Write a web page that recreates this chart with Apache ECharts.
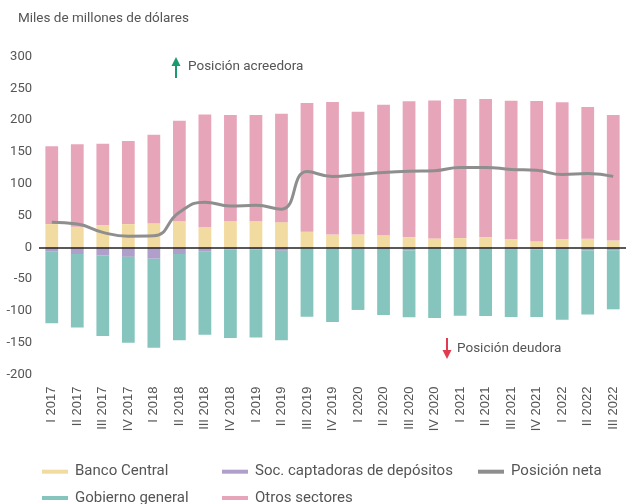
<!DOCTYPE html>
<html>
<head>
<meta charset="utf-8">
<script src="https://cdn.jsdelivr.net/npm/echarts@6/dist/echarts.min.js"></script>
<style>
	html, body { margin: 0; padding: 0; background: #fff; }
	#chart { width: 626px; height: 504px; }
</style>
</head>
<body>
<div id="chart"></div>
<script>
// 数据
var categories = ['I 2017', 'II 2017', 'III 2017', 'IV 2017', 'I 2018', 'II 2018', 'III 2018', 'IV 2018',
	'I 2019', 'II 2019', 'III 2019', 'IV 2019', 'I 2020', 'II 2020', 'III 2020', 'IV 2020',
	'I 2021', 'II 2021', 'III 2021', 'IV 2021', 'I 2022', 'II 2022', 'III 2022'];
var bancoCentral = [36.5, 32.5, 34.5, 36.5, 38, 41, 31.5, 41, 41, 39.5, 24.5, 20, 20, 19, 16, 14, 14.5, 16, 13, 9, 12.5, 13.5, 10.5];
var otrosSectores = [122.5, 129.5, 128.5, 130.5, 139, 158, 177.5, 167, 167, 170.5, 202.5, 208.5, 193, 205, 213.5, 217, 218.5, 217, 217.5, 221, 215.5, 207, 197.5];
var socCaptadoras = [-7, -10.5, -13, -15, -18, -10.5, -7, -3.5, -3, -5.5, -1.7, -2, -2, -2.5, -4.5, -2, -2, -2, -4, -3, -4, -4.5, -4.5];
var gobiernoGeneral = [-112.5, -115.5, -126.5, -135, -140, -135.5, -130.5, -139, -139, -140.5, -107.5, -115.5, -96.5, -104, -105.5, -109, -105.5, -106, -105.5, -106.5, -110, -101, -93];
var posicionNeta = [39.5, 36.5, 23.5, 17.5, 18, 55, 71, 65, 66, 60, 119, 111.5, 114.5, 117.5, 119.5, 120.5, 125.5, 125.5, 122.5, 121, 114.5, 116, 111.5];
var yTicks = { min: -200, max: 300, interval: 50 };

var font = "Roboto, 'Liberation Sans', sans-serif";
var textColor = '#555';

var myChart = echarts.init(document.getElementById('chart'));

// 单项图例（按列摆放）
function legendItem(left, top, name) {
	return {
		left: left,
		top: top,
		padding: 0,
		itemWidth: 26,
		itemHeight: 4,
		icon: 'rect',
		selectedMode: false,
		textStyle: { fontFamily: font, fontSize: 15, color: textColor, lineHeight: 18, padding: [0, 0, 0, 2] },
		data: [name]
	};
}

var option = {
	animation: false,
	title: {
		text: 'Miles de millones de dólares',
		left: 18,
		top: 12,
		padding: 0,
		textStyle: { fontFamily: font, fontSize: 13.5, fontWeight: 'normal', color: textColor }
	},
	legend: [
		legendItem(42, 462.7, 'Banco Central'),
		legendItem(42, 489, 'Gobierno general'),
		legendItem(222, 462.7, 'Soc. captadoras de depósitos'),
		legendItem(222, 489, 'Otros sectores'),
		legendItem(478, 462.7, 'Posición neta')
	],
	grid: { left: 39, right: -8, top: 56.5, bottom: 129.5 },
	xAxis: {
		type: 'category',
		data: categories,
		axisLine: { show: false },
		axisTick: { show: false },
		axisLabel: {
			interval: 0,
			rotate: 90,
			margin: 12,
			fontFamily: "'Liberation Sans', Arial, sans-serif",
			fontSize: 13,
			color: textColor
		}
	},
	yAxis: {
		type: 'value',
		min: yTicks.min,
		max: yTicks.max,
		interval: yTicks.interval,
		axisLine: { show: false },
		axisTick: { show: false },
		splitLine: { show: false },
		axisLabel: { margin: 7, fontFamily: font, fontSize: 13, color: textColor }
	},
	series: [
		{
			name: 'Banco Central', type: 'bar', stack: 'total', barWidth: '50%',
			itemStyle: { color: '#f2dba1' },
			data: bancoCentral,
			markLine: {
				silent: true,
				symbol: 'none',
				label: { show: false },
				lineStyle: { color: '#222', width: 1.5, type: 'solid' },
				data: [{ yAxis: 0 }]
			}
		},
		{
			name: 'Soc. captadoras de depósitos', type: 'bar', stack: 'total', barWidth: '50%',
			itemStyle: { color: '#b09fcb' },
			data: socCaptadoras
		},
		{
			name: 'Gobierno general', type: 'bar', stack: 'total', barWidth: '50%',
			itemStyle: { color: '#86c5bd' },
			data: gobiernoGeneral
		},
		{
			name: 'Otros sectores', type: 'bar', stack: 'total', barWidth: '50%',
			itemStyle: { color: '#e7a5ba' },
			data: otrosSectores
		},
		{
			name: 'Posición neta', type: 'line', smooth: 0.5, symbol: 'none', z: 5,
			itemStyle: { color: '#8e8e8e' },
			lineStyle: { color: '#8e8e8e', width: 3 },
			data: posicionNeta
		}
	],
	// 注释箭头
	graphic: [
		{ type: 'rect', shape: { x: 175, y: 64, width: 2, height: 14 }, style: { fill: '#1b9a6e' } },
		{ type: 'polygon', shape: { points: [[176, 57], [171.5, 66], [180.5, 66]] }, style: { fill: '#1b9a6e' } },
		{ type: 'text', left: 188, top: 60, style: { text: 'Posición acreedora', fontFamily: font, fontSize: 13.5, fill: textColor } },
		{ type: 'rect', shape: { x: 446, y: 338, width: 2, height: 13 }, style: { fill: '#e23a4f' } },
		{ type: 'polygon', shape: { points: [[447, 359], [442.5, 350], [451.5, 350]] }, style: { fill: '#e23a4f' } },
		{ type: 'text', left: 457, top: 342, style: { text: 'Posición deudora', fontFamily: font, fontSize: 13.5, fill: textColor } }
	]
};
myChart.setOption(option);
</script>
</body>
</html>
